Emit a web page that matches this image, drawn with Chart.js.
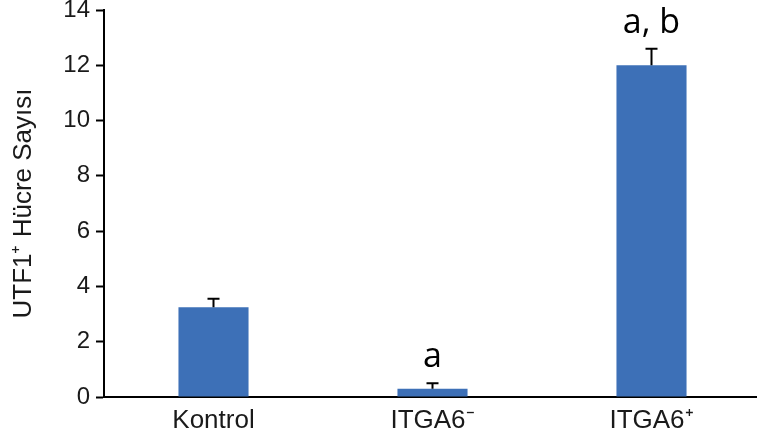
<!DOCTYPE html>
<html>
<head>
<meta charset="utf-8">
<script src="https://cdn.jsdelivr.net/npm/chart.js@4/dist/chart.umd.min.js"></script>
<style>
  html, body { margin: 0; padding: 0; background: #ffffff; overflow: hidden; }
  #wrap { width: 761px; height: 444px; }
</style>
</head>
<body>
<div id="wrap"><canvas id="c" width="761" height="444"></canvas></div>
<script>
// Groups and measured UTF1+ cell counts (mean, upward error)
const categories = ['Kontrol', 'ITGA6\u207B', 'ITGA6\u207A'];
const means = [3.25, 0.3, 12.0];
const errors = [0.3, 0.2, 0.6];
// Significance letters shown above each group
const letters = ['', 'a', 'a, b'];
const yMin = 0;
const yMax = 14;
const yStep = 2;

const BAR_COLOR = '#3d70b7';
const TEXT_COLOR = '#1a1a1a';
const AXIS_FONT = '"Liberation Sans", Arial, Helvetica, sans-serif';
const LETTER_FONT = '"Open Sans", "Noto Sans", sans-serif';

// Draws the upward error whiskers and the letters above them
const errorBarPlugin = {
  id: 'errorBars',
  afterDatasetsDraw(chart) {
    const ctx = chart.ctx;
    const yScale = chart.scales.y;
    const meta = chart.getDatasetMeta(0);
    ctx.save();
    ctx.strokeStyle = '#000000';
    ctx.lineWidth = 2;
    meta.data.forEach((bar, i) => {
      const x = bar.x;
      const yVal = yScale.getPixelForValue(means[i]);
      const yTop = yScale.getPixelForValue(means[i] + errors[i]);
      ctx.beginPath();
      ctx.moveTo(x, yVal);
      ctx.lineTo(x, yTop);
      ctx.moveTo(x - 6, yTop);
      ctx.lineTo(x + 6, yTop);
      ctx.stroke();
      if (letters[i]) {
        ctx.fillStyle = '#000000';
        ctx.font = '34px ' + LETTER_FONT;
        ctx.textAlign = 'center';
        ctx.textBaseline = 'alphabetic';
        ctx.fillText(letters[i], x, yTop - 16);
      }
    });
    ctx.restore();
  }
};

new Chart(document.getElementById('c'), {
  type: 'bar',
  data: {
    labels: categories,
    datasets: [{
      data: means,
      backgroundColor: BAR_COLOR,
      borderWidth: 0,
      categoryPercentage: 1.0,
      barPercentage: 0.32
    }]
  },
  options: {
    responsive: false,
    animation: false,
    devicePixelRatio: 1,
    layout: { padding: { top: 10, left: 0, right: 0, bottom: 0 } },
    plugins: {
      legend: { display: false },
      tooltip: { enabled: false }
    },
    scales: {
      x: {
        offset: true,
        grid: { display: false, drawTicks: false },
        border: { display: true, color: '#000000', width: 2 },
        ticks: {
          color: TEXT_COLOR,
          padding: 8,
          font: { family: AXIS_FONT, size: 26 }
        },
        afterFit(scale) {
          scale.height = 47;
          scale.paddingLeft = 0;
          scale.paddingRight = 0;
        }
      },
      y: {
        min: yMin,
        max: yMax,
        grid: {
          drawOnChartArea: false,
          drawTicks: true,
          tickLength: 8,
          tickColor: '#000000',
          tickWidth: 2
        },
        border: { display: true, color: '#000000', width: 2 },
        ticks: {
          stepSize: yStep,
          color: TEXT_COLOR,
          padding: 6,
          font: { family: AXIS_FONT, size: 24 }
        },
        title: {
          display: true,
          text: 'UTF1\u207A H\u00FCcre Say\u0131s\u0131',
          color: TEXT_COLOR,
          padding: { top: 8, bottom: 0 },
          font: { family: AXIS_FONT, size: 26 }
        },
        afterFit(scale) {
          scale.width = 104;
          scale.paddingTop = 0;
          scale.paddingBottom = 0;
        }
      }
    }
  },
  plugins: [errorBarPlugin]
});
</script>
</body>
</html>
